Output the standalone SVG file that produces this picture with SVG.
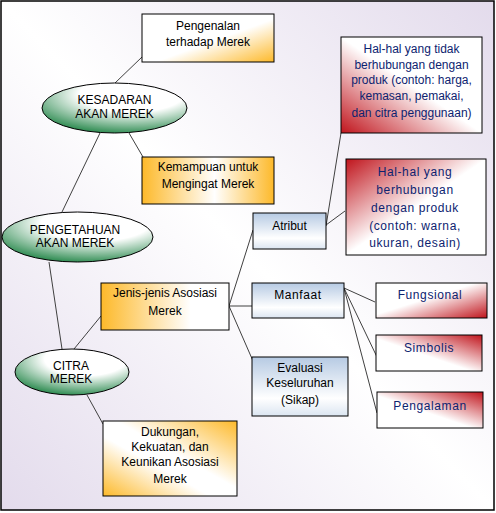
<svg xmlns="http://www.w3.org/2000/svg" width="496" height="513" viewBox="0 0 496 513">
<style>
text{font-family:"Liberation Sans",Arial,sans-serif;font-size:12px;text-anchor:middle;fill:#000}
.n{fill:#0d2370}
.w{letter-spacing:0.6px}
.b{stroke:#000;stroke-width:1}
.c line{stroke:#404040;stroke-width:1}
</style>
<defs>
<linearGradient id="bg" x1="1" y1="0" x2="0" y2="1"><stop offset="0" stop-color="#e3dbec"/><stop offset="0.5" stop-color="#ffffff"/><stop offset="1" stop-color="#e3dbec"/></linearGradient>
<radialGradient id="gr" cx="0.62" cy="0.22" r="0.8"><stop offset="0" stop-color="#ffffff"/><stop offset="0.45" stop-color="#ffffff"/><stop offset="1" stop-color="#2f8c52"/></radialGradient>
<linearGradient id="oBR" x1="0" y1="0" x2="1" y2="1"><stop offset="0" stop-color="#fff"/><stop offset="0.55" stop-color="#fff"/><stop offset="1" stop-color="#fdb92a"/></linearGradient>
<linearGradient id="oLR" x1="0" y1="0" x2="1" y2="0"><stop offset="0" stop-color="#fdb92a"/><stop offset="0.55" stop-color="#fff"/><stop offset="1" stop-color="#fdb92a"/></linearGradient>
<linearGradient id="oL" x1="0" y1="0" x2="1" y2="0"><stop offset="0" stop-color="#fdb92a"/><stop offset="0.7" stop-color="#fff"/><stop offset="1" stop-color="#fff"/></linearGradient>
<linearGradient id="oD" x1="1" y1="0" x2="0" y2="1"><stop offset="0" stop-color="#fdb92a"/><stop offset="0.45" stop-color="#fff"/><stop offset="0.6" stop-color="#fff"/><stop offset="1" stop-color="#fdb92a"/></linearGradient>
<linearGradient id="bl" x1="0" y1="0" x2="0" y2="1"><stop offset="0" stop-color="#b6cae3"/><stop offset="0.7" stop-color="#fff"/><stop offset="1" stop-color="#dbe5f1"/></linearGradient>
<linearGradient id="rBL" x1="0" y1="1" x2="1" y2="0"><stop offset="0" stop-color="#c0141c"/><stop offset="0.5" stop-color="#fff"/><stop offset="1" stop-color="#fff"/></linearGradient>
<linearGradient id="rTL" x1="0" y1="0" x2="1" y2="1"><stop offset="0" stop-color="#c0141c"/><stop offset="0.5" stop-color="#fff"/><stop offset="1" stop-color="#fff"/></linearGradient>
<linearGradient id="rBR" x1="1" y1="1" x2="0" y2="0"><stop offset="0" stop-color="#c0141c"/><stop offset="0.55" stop-color="#fff"/><stop offset="1" stop-color="#fff"/></linearGradient>
<linearGradient id="rTR" x1="1" y1="0" x2="0" y2="1"><stop offset="0" stop-color="#c0141c"/><stop offset="0.55" stop-color="#fff"/><stop offset="1" stop-color="#fff"/></linearGradient>
</defs>
<rect x="1" y="1" width="493" height="509" fill="url(#bg)" stroke="#000" stroke-width="1.5"/>
<g class="c" id="connectors">
<line x1="142" y1="57" x2="115" y2="83"/>
<line x1="129" y1="133" x2="143" y2="157"/>
<line x1="100" y1="133" x2="62" y2="212"/>
<line x1="49" y1="262" x2="62" y2="349"/>
<line x1="74" y1="349" x2="101" y2="316"/>
<line x1="87" y1="395" x2="103" y2="424"/>
<line x1="229" y1="306" x2="253" y2="230"/>
<line x1="229" y1="306" x2="252" y2="306"/>
<line x1="229" y1="306" x2="253" y2="361"/>
<line x1="326" y1="226" x2="341" y2="133"/>
<line x1="326" y1="225" x2="345" y2="211"/>
<line x1="344" y1="288" x2="375" y2="302"/>
<line x1="344" y1="288" x2="377" y2="357"/>
<line x1="344" y1="288" x2="377" y2="413"/>
</g>
<g id="pengenalan"><rect class="b" x="142" y="14" width="132" height="48" fill="url(#oBR)"/><text x="208" y="30">Pengenalan</text><text x="208" y="46">terhadap Merek</text></g>
<g id="kesadaran"><ellipse class="b" cx="114.5" cy="108" rx="72.5" ry="25" fill="url(#gr)"/><text x="114.5" y="104">KESADARAN</text><text x="114.5" y="118">AKAN MEREK</text></g>
<g id="kemampuan"><rect class="b" x="142" y="157" width="132" height="47" fill="url(#oLR)"/><text x="208" y="171">Kemampuan untuk</text><text x="208" y="188">Mengingat Merek</text></g>
<g id="pengetahuan"><ellipse class="b" cx="77.5" cy="237" rx="75.5" ry="25" fill="url(#gr)"/><text x="75" y="234">PENGETAHUAN</text><text x="75" y="247">AKAN MEREK</text></g>
<g id="citra"><ellipse class="b" cx="72" cy="372" rx="57" ry="23" fill="url(#gr)"/><text x="71" y="370">CITRA</text><text x="71" y="383">MEREK</text></g>
<g id="jenis"><rect class="b" x="101" y="283" width="128" height="47" fill="url(#oL)"/><text x="165" y="297">Jenis-jenis Asosiasi</text><text x="165" y="315">Merek</text></g>
<g id="dukungan"><rect class="b" x="103" y="421" width="134" height="75" fill="url(#oD)"/><text x="170" y="436">Dukungan,</text><text x="170" y="451">Kekuatan, dan</text><text x="170" y="466">Keunikan Asosiasi</text><text x="170" y="483">Merek</text></g>
<g id="atribut"><rect class="b" x="253" y="213" width="73" height="36" fill="url(#bl)"/><text x="289.5" y="230">Atribut</text></g>
<g id="manfaat"><rect class="b" x="252" y="283" width="92" height="35" fill="url(#bl)"/><text x="298" y="299" class="w">Manfaat</text></g>
<g id="evaluasi"><rect class="b" x="252" y="357" width="96" height="59" fill="url(#bl)"/><text x="300" y="372">Evaluasi</text><text x="300" y="387">Keseluruhan</text><text x="300" y="404">(Sikap)</text></g>
<g id="tidak"><rect class="b" x="341" y="37" width="141" height="96" fill="url(#rBL)"/><text class="n" x="411.5" y="53">Hal-hal yang tidak</text><text class="n" x="411.5" y="69">berhubungan dengan</text><text class="n" x="411.5" y="84">produk (contoh: harga,</text><text class="n" x="411.5" y="100">kemasan, pemakai,</text><text class="n" x="411.5" y="117">dan citra penggunaan)</text></g>
<g id="berhubungan"><rect class="b" x="346" y="159" width="140" height="96" fill="url(#rTL)"/><text class="n w" x="415" y="176">Hal-hal yang</text><text class="n w" x="415" y="194">berhubungan</text><text class="n w" x="415" y="212">dengan produk</text><text class="n w" x="415" y="230">(contoh: warna,</text><text class="n w" x="415" y="247">ukuran, desain)</text></g>
<g id="fungsional"><rect class="b" x="376" y="283" width="111" height="35" fill="url(#rBR)"/><text class="n w" x="430" y="299">Fungsional</text></g>
<g id="simbolis"><rect class="b" x="376" y="335" width="106" height="36" fill="url(#rTR)"/><text class="n w" x="429" y="352">Simbolis</text></g>
<g id="pengalaman"><rect class="b" x="377" y="392" width="106" height="36" fill="url(#rTR)"/><text class="n w" x="430" y="410">Pengalaman</text></g>
</svg>
